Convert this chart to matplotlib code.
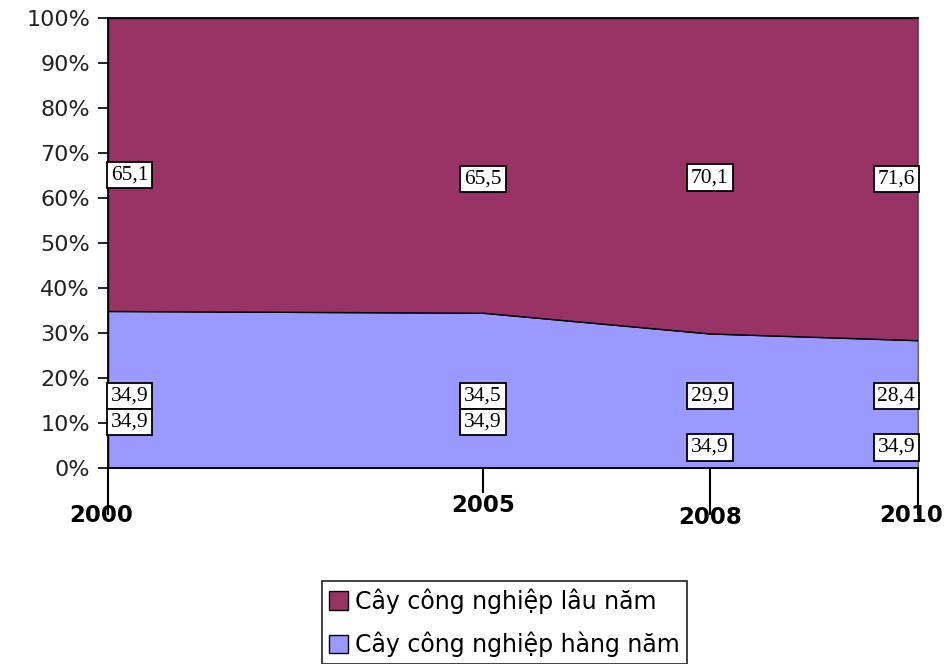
import matplotlib
matplotlib.use("Agg")
import matplotlib.pyplot as plt
import numpy as np
from matplotlib.patches import Patch

years = [2000, 2005, 2008, 2010]
# where each year sits along the x axis of the original (0..1)
year_pos = [0.0, 0.463, 0.743, 1.0]
hang_nam = [34.9, 34.5, 29.9, 28.4]
lau_nam = [65.1, 65.5, 70.1, 71.6]
extra_labels = ["34,9", "34,9", "34,9", "34,9"]
series_names = ["Cây công nghiệp lâu năm", "Cây công nghiệp hàng năm"]

c_lau = "#993366"
c_hang = "#9999FF"


def fwd(x):
    return np.interp(x, years, year_pos)


def inv(x):
    return np.interp(x, year_pos, years)


fig = plt.figure(figsize=(9.48, 6.64), dpi=100)
ax = fig.add_axes([108 / 948, 1 - 468 / 664, 810 / 948, 450 / 664])
ax.set_xscale("function", functions=(fwd, inv))

ax.stackplot(years, hang_nam, lau_nam, colors=[c_hang, c_lau],
             edgecolor="black", linewidth=1.0)
ax.set_xlim(2000, 2010)
ax.set_ylim(0, 100)

ax.set_yticks(np.arange(0, 101, 10))
ax.set_yticklabels([f"{v}%" for v in range(0, 101, 10)])
ax.tick_params(axis="y", direction="out", length=7, width=1.2,
               labelsize=16, pad=6, colors="black")
for lbl in ax.get_yticklabels():
    lbl.set_color("#222222")

ax.set_xticks(years)
ax.set_xticklabels([])
ax.tick_params(axis="x", direction="out", length=34, width=1.5)
tl = ax.xaxis.get_ticklines()
tl[2].set_markersize(18)  # 2005 tick shorter

for s in ["left", "bottom", "top"]:
    ax.spines[s].set_color("black")
    ax.spines[s].set_linewidth(1.3)
ax.spines["right"].set_color("#666666")

# year labels under the axis
label_dy = [-34, -27, -36, -34]
label_dx = [-5, 0, 0, -5]
for yr, dx, dy in zip(years, label_dx, label_dy):
    ax.annotate(str(yr), xy=(yr, 0), xycoords=("data", "axes fraction"),
                xytext=(dx, dy), textcoords="offset points",
                ha="center", va="center", fontsize=16.5, fontweight="bold",
                family="DejaVu Sans")

box = dict(boxstyle="square,pad=0.18", facecolor="white",
           edgecolor="black", linewidth=1.3)


def put(x, y, txt, i):
    if i == 0:
        ha, dx = "left", 2
    elif i == len(years) - 1:
        ha, dx = "right", -2
    else:
        ha, dx = "center", 0
    ax.annotate(txt, xy=(x, y), xytext=(dx, 0), textcoords="offset points",
                ha=ha, va="center", fontsize=15.5, family="Liberation Serif",
                bbox=box)


top_y = [65.1, 64.2, 64.5, 64.2]
for i, (yr, v) in enumerate(zip(years, lau_nam)):
    put(yr, top_y[i], f"{v:.1f}".replace(".", ","), i)
for i, (yr, v) in enumerate(zip(years, hang_nam)):
    put(yr, 16.0, f"{v:.1f}".replace(".", ","), i)
extra_y = [10.2, 10.2, 4.6, 4.6]
for i, (yr, t) in enumerate(zip(years, extra_labels)):
    put(yr, extra_y[i], t, i)

handles = [Patch(facecolor=c_lau, edgecolor="black"),
           Patch(facecolor=c_hang, edgecolor="black")]
fig.legend(handles, series_names, loc="lower center",
           bbox_to_anchor=(0.532, 0.0), ncol=1, fontsize=17,
           frameon=True, fancybox=False, edgecolor="black",
           handlelength=0.8, handleheight=0.8, handletextpad=0.3,
           borderpad=0.3, labelspacing=0.75, borderaxespad=0)
leg = fig.legends[0]
leg.get_frame().set_linewidth(1.3)

fig.savefig("out.png", dpi=100)
